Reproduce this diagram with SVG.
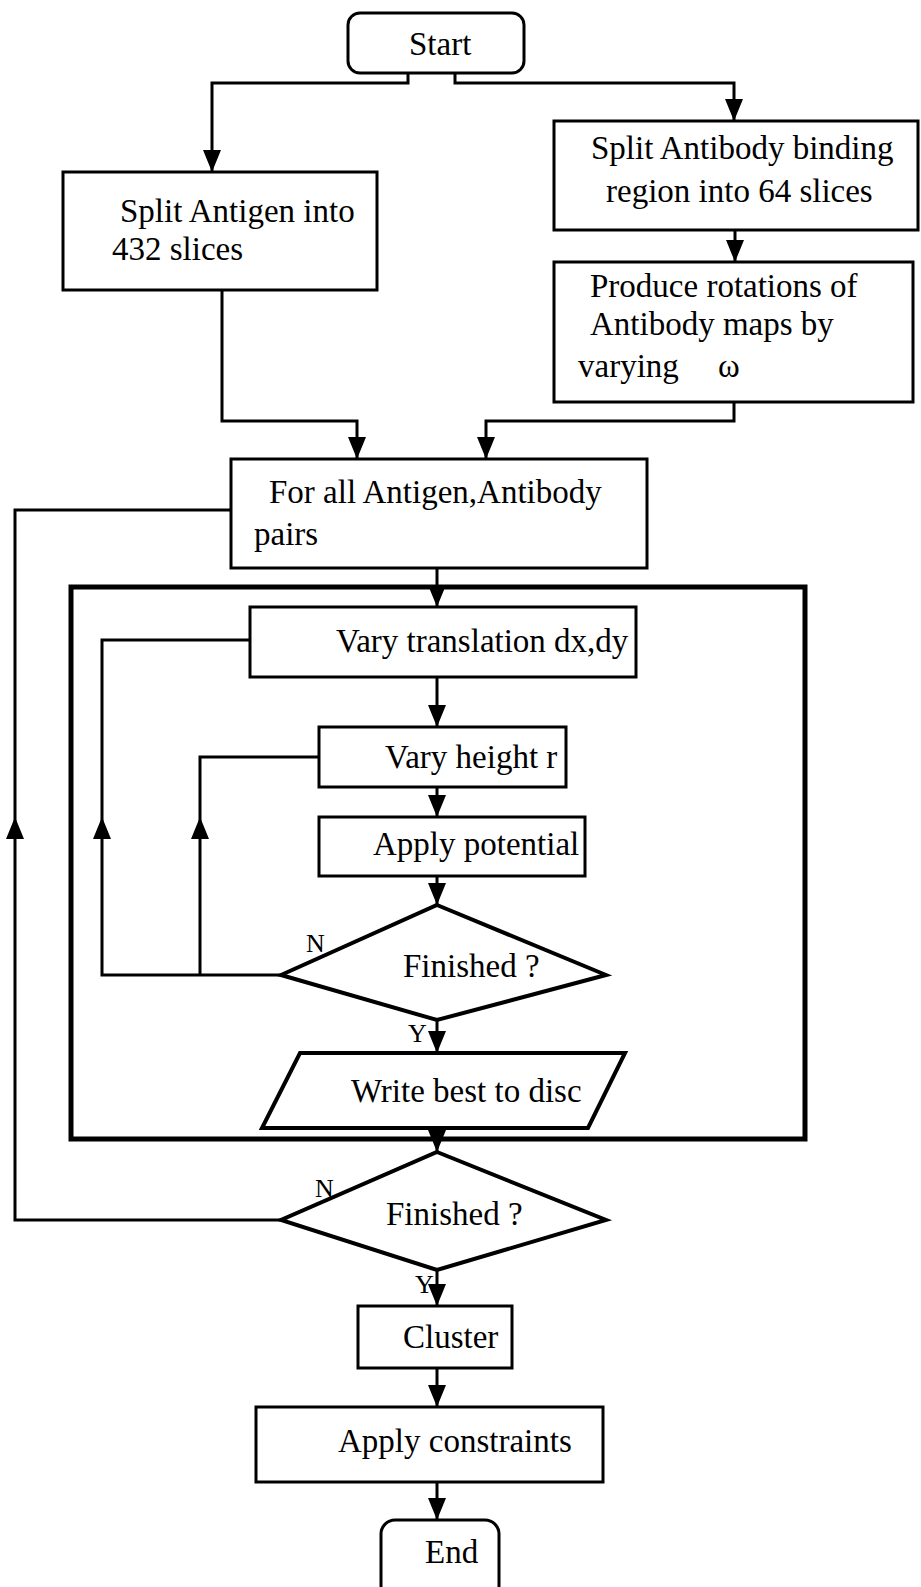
<svg xmlns="http://www.w3.org/2000/svg" width="921" height="1587" viewBox="0 0 921 1587">
<style>
.box{fill:none;stroke:#000;stroke-width:3}
.outer{fill:none;stroke:#000;stroke-width:5}
.ln{fill:none;stroke:#000;stroke-width:3}
.t{font-family:"Liberation Serif","Times New Roman",serif;font-size:33px;fill:#000}
.s{font-family:"Liberation Serif","Times New Roman",serif;font-size:26px;fill:#000}
</style>
<defs>
<marker id="ah" markerUnits="userSpaceOnUse" viewBox="0 0 22 18" markerWidth="22" markerHeight="18" refX="22" refY="9" orient="auto">
<path d="M0,0 L22,9 L0,18 z" fill="#000"/>
</marker>
</defs>
<rect width="921" height="1587" fill="#fff"/>
<g id="connectors">
<path class="ln" d="M408,73 V83 H212 V172" marker-end="url(#ah)"/>
<path class="ln" d="M455,73 V83 H734 V121" marker-end="url(#ah)"/>
<path class="ln" d="M735,230 V262" marker-end="url(#ah)"/>
<path class="ln" d="M222,290 V421 H357 V459" marker-end="url(#ah)"/>
<path class="ln" d="M734,402 V421 H486 V459" marker-end="url(#ah)"/>
<path class="ln" d="M437,568 V607" marker-end="url(#ah)"/>
<path class="ln" d="M437,677 V727" marker-end="url(#ah)"/>
<path class="ln" d="M437,787 V817" marker-end="url(#ah)"/>
<path class="ln" d="M437,876 V905" marker-end="url(#ah)"/>
<path class="ln" d="M437,1020 V1053" marker-end="url(#ah)"/>
<path class="ln" d="M437,1128 V1152" marker-end="url(#ah)"/>
<path class="ln" d="M437,1270 V1306" marker-end="url(#ah)"/>
<path class="ln" d="M437,1368 V1407" marker-end="url(#ah)"/>
<path class="ln" d="M437,1482 V1520" marker-end="url(#ah)"/>
<path class="ln" d="M281,975 H102 V817" marker-end="url(#ah)"/>
<path class="ln" d="M102,817 V640 H250"/>
<path class="ln" d="M200,975 V817" marker-end="url(#ah)"/>
<path class="ln" d="M200,817 V757 H319"/>
<path class="ln" d="M281,1220 H15 V817" marker-end="url(#ah)"/>
<path class="ln" d="M15,817 V510 H231"/>
</g>
<g id="start">
<rect class="box" x="348" y="13" width="176" height="60" rx="12"/>
<text class="t" x="409" y="55">Start</text>
</g>
<g id="split-antigen">
<rect class="box" x="63" y="172" width="314" height="118"/>
<text class="t" x="120" y="222">Split Antigen into</text>
<text class="t" x="112" y="260">432 slices</text>
</g>
<g id="split-antibody">
<rect class="box" x="554" y="121" width="364" height="109"/>
<text class="t" x="591" y="159">Split Antibody binding</text>
<text class="t" x="606" y="202">region into 64 slices</text>
</g>
<g id="produce">
<rect class="box" x="554" y="262" width="359" height="140"/>
<text class="t" x="590" y="297">Produce rotations of</text>
<text class="t" x="590" y="335">Antibody maps by</text>
<text class="t" y="377"><tspan x="578">varying</tspan><tspan x="718">ω</tspan></text>
</g>
<g id="for-all">
<rect class="box" x="231" y="459" width="416" height="109"/>
<text class="t" x="269" y="503">For all Antigen,Antibody</text>
<text class="t" x="254" y="545">pairs</text>
</g>
<g id="inner-loop">
<rect class="outer" x="71" y="587" width="734" height="552"/>
</g>
<g id="vary-translation">
<rect class="box" x="250" y="607" width="386" height="70"/>
<text class="t" x="336" y="652">Vary translation dx,dy</text>
</g>
<g id="vary-height">
<rect class="box" x="319" y="727" width="247" height="60"/>
<text class="t" x="385" y="768">Vary height r</text>
</g>
<g id="apply-potential">
<rect class="box" x="319" y="817" width="266" height="59"/>
<text class="t" x="373" y="855">Apply potential</text>
</g>
<g id="finished-1">
<polygon class="outer" style="stroke-width:4" points="437,905 606,975 437,1020 281,975"/>
<text class="t" x="403" y="977">Finished ?</text>
<text class="s" x="306" y="952">N</text>
<text class="s" x="408" y="1042">Y</text>
</g>
<g id="write-best">
<polygon class="outer" style="stroke-width:4" points="300,1053 625,1053 588,1128 262,1128"/>
<text class="t" x="351" y="1102">Write best to disc</text>
</g>
<g id="finished-2">
<polygon class="outer" style="stroke-width:4" points="437,1152 606,1220 437,1270 281,1220"/>
<text class="t" x="386" y="1225">Finished ?</text>
<text class="s" x="315" y="1197">N</text>
<text class="s" x="415" y="1293">Y</text>
</g>
<g id="cluster">
<rect class="box" x="358" y="1306" width="154" height="62"/>
<text class="t" x="403" y="1348">Cluster</text>
</g>
<g id="apply-constraints">
<rect class="box" x="256" y="1407" width="347" height="75"/>
<text class="t" x="338" y="1452">Apply constraints</text>
</g>
<g id="end">
<rect class="box" x="381" y="1520" width="118" height="80" rx="14"/>
<text class="t" x="425" y="1563">End</text>
</g>
</svg>
